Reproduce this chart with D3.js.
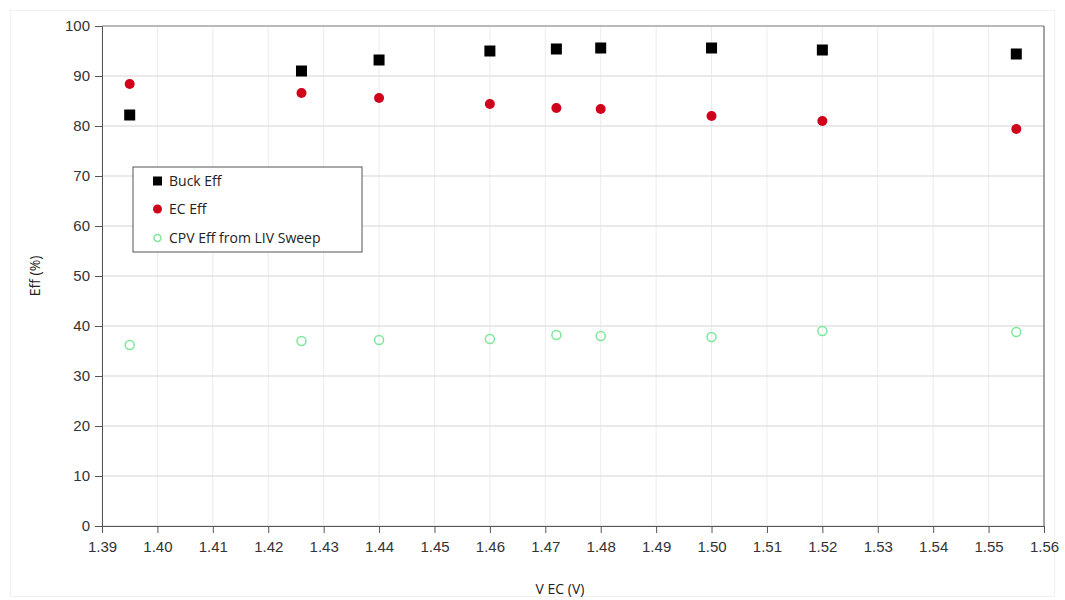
<!DOCTYPE html>
<html>
<head>
<meta charset="utf-8">
<script src="https://cdn.jsdelivr.net/npm/d3@7"></script>
<style>
  body { margin: 0; background: #fff; }
  svg { font-family: "Open Sans", "Liberation Sans", sans-serif; }
</style>
</head>
<body>
<div id="chart"></div>
<script>
// Data
const vEC = [1.395, 1.426, 1.44, 1.46, 1.472, 1.48, 1.50, 1.52, 1.555];
const buckEff = [82.2, 91.0, 93.2, 95.0, 95.4, 95.6, 95.6, 95.2, 94.4];
const ecEff = [88.4, 86.6, 85.6, 84.4, 83.6, 83.4, 82.0, 81.0, 79.4];
const cpvEff = [36.2, 37.0, 37.2, 37.4, 38.2, 38.0, 37.8, 39.0, 38.8];
const xTicks = d3.range(1.39, 1.5601, 0.01);
const yTicks = d3.range(0, 101, 10);
const seriesNames = ["Buck Eff", "EC Eff", "CPV Eff from LIV Sweep"];

const W = 1065, H = 600;
const margin = {top: 26, right: 21, bottom: 74, left: 102};

const svg = d3.select("#chart").append("svg")
  .attr("width", W)
  .attr("height", H);

// faint outer chart border
svg.append("rect")
  .attr("x", 10.5).attr("y", 10.5)
  .attr("width", W - 21).attr("height", H - 14)
  .attr("fill", "none")
  .attr("stroke", "#f0f0f0");

// Scales
const x = d3.scaleLinear()
  .domain([1.39, 1.56])
  .range([margin.left, W - margin.right]);
const y = d3.scaleLinear()
  .domain([0, 100])
  .range([H - margin.bottom, margin.top]);

// Gridlines
svg.append("g")
  .selectAll("line")
  .data(xTicks)
  .join("line")
  .attr("x1", d => x(d)).attr("x2", d => x(d))
  .attr("y1", y(0)).attr("y2", y(100))
  .attr("stroke", "#ececec");
svg.append("g")
  .selectAll("line")
  .data(yTicks)
  .join("line")
  .attr("x1", x(1.39)).attr("x2", x(1.56))
  .attr("y1", d => y(d)).attr("y2", d => y(d))
  .attr("stroke", "#e2e2e2")
  .attr("stroke-width", 1.5);

// Frame (top and right)
svg.append("line")
  .attr("x1", x(1.39)).attr("x2", x(1.56))
  .attr("y1", y(100)).attr("y2", y(100))
  .attr("stroke", "#888");
svg.append("line")
  .attr("x1", x(1.56)).attr("x2", x(1.56))
  .attr("y1", y(100)).attr("y2", y(0))
  .attr("stroke", "#555");

// Minor ticks
const xAxis = svg.append("g")
  .attr("transform", `translate(0,${y(0)})`);
xAxis.call(d3.axisBottom(x).tickValues(d3.range(1.39, 1.5601, 0.002)).tickSize(4).tickFormat(""));
xAxis.call(d3.axisBottom(x).tickValues(xTicks).tickSize(7).tickPadding(8).tickFormat(d3.format(".2f")));
xAxis.selectAll("path, line").attr("stroke", "#555");
xAxis.selectAll("text").style("font-size", "15px").attr("fill", "#333");

const yAxis = svg.append("g")
  .attr("transform", `translate(${x(1.39)},0)`);
yAxis.call(d3.axisLeft(y).tickValues(d3.range(0, 101, 2)).tickSize(4).tickFormat(""));
yAxis.call(d3.axisLeft(y).tickValues(yTicks).tickSize(7).tickPadding(5).tickFormat(d3.format("d")));
yAxis.selectAll("path, line").attr("stroke", "#555");
yAxis.selectAll("text").style("font-size", "15px").attr("fill", "#333");

// Axis labels
svg.append("text")
  .attr("x", 560)
  .attr("y", 594)
  .attr("text-anchor", "middle")
  .style("font-size", "14px")
  .attr("fill", "#222")
  .text("V EC (V)");
svg.append("text")
  .attr("transform", "rotate(-90)")
  .attr("x", -276)
  .attr("y", 40)
  .attr("text-anchor", "middle")
  .style("font-size", "14px")
  .attr("fill", "#222")
  .text("Eff (%)");

// Points
const cpvData = vEC.map((v, i) => ({v, e: cpvEff[i]}));
const ecData = vEC.map((v, i) => ({v, e: ecEff[i]}));
const buckData = vEC.map((v, i) => ({v, e: buckEff[i]}));

svg.append("g").selectAll("circle")
  .data(cpvData)
  .join("circle")
  .attr("cx", d => x(d.v))
  .attr("cy", d => y(d.e))
  .attr("r", 4.5)
  .attr("fill", "none")
  .attr("stroke", "#7de89a")
  .attr("stroke-width", 1.5);

svg.append("g").selectAll("circle")
  .data(ecData)
  .join("circle")
  .attr("cx", d => x(d.v))
  .attr("cy", d => y(d.e))
  .attr("r", 5)
  .attr("fill", "#d0021b");

svg.append("g").selectAll("rect")
  .data(buckData)
  .join("rect")
  .attr("x", d => x(d.v) - 5.5)
  .attr("y", d => y(d.e) - 5.5)
  .attr("width", 11)
  .attr("height", 11)
  .attr("fill", "#000");

// Legend
const legend = svg.append("g").attr("transform", "translate(133,167)");
legend.append("rect")
  .attr("width", 229).attr("height", 85)
  .attr("fill", "#fff")
  .attr("stroke", "#555");
const rows = [14, 42, 71];
legend.append("rect")
  .attr("x", 20).attr("y", rows[0] - 4.5)
  .attr("width", 9).attr("height", 9)
  .attr("fill", "#000");
legend.append("circle")
  .attr("cx", 24.5).attr("cy", rows[1])
  .attr("r", 4.5)
  .attr("fill", "#d0021b");
legend.append("circle")
  .attr("cx", 24.5).attr("cy", rows[2])
  .attr("r", 3.5)
  .attr("fill", "none")
  .attr("stroke", "#7de89a")
  .attr("stroke-width", 1.5);
legend.selectAll("text.lbl")
  .data(seriesNames)
  .join("text")
  .attr("class", "lbl")
  .attr("x", 36)
  .attr("y", (d, i) => rows[i] + 5)
  .style("font-size", "14px")
  .attr("fill", "#222")
  .text(d => d);
</script>
</body>
</html>
